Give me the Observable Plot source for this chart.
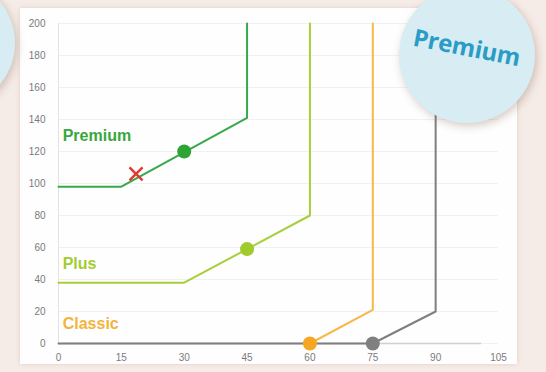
<!DOCTYPE html>
<html>
<head>
<meta charset="utf-8">
<script src="https://cdn.jsdelivr.net/npm/d3@7"></script>
<script src="https://cdn.jsdelivr.net/npm/@observablehq/plot@0.6"></script>
<style>
  html, body { margin: 0; padding: 0; background: #f6ece7; }
  #wrap { position: relative; width: 546px; height: 372px; overflow: hidden; background: #f6ece7; }
  #panel { position: absolute; left: 20px; top: 8px; width: 497px; height: 356px; background: #fefefe;
           box-shadow: 0 0 4px rgba(180,150,140,0.35); }
  #chart { position: absolute; left: 0; top: 0; }
  .bubble { position: absolute; border-radius: 50%; background: #d8edf3;
            box-shadow: 2px 3px 8px rgba(120,85,70,0.3); }
  #bl { left: -115px; top: -22px; width: 130px; height: 130px; }
  #br { left: 399px; top: -13px; width: 136px; height: 136px; }
  #br span { position: absolute; left: 0; right: 0; top: 43px; text-align: center;
             font-family: "Open Sans", sans-serif; font-weight: 700; font-size: 24px; color: #2a9cc5;
             transform: rotate(11deg); letter-spacing: -0.3px; }
</style>
</head>
<body>
<div id="wrap">
  <div id="panel"></div>
  <div id="chart"></div>
  <div class="bubble" id="bl"></div>
  <div class="bubble" id="br"><span>Premium</span></div>
</div>
<script>
// Series (x = usage, y = price)
const premiumX = [0, 15, 45, 45];
const premiumY = [98, 98, 141, 200];
const plusX = [0, 30, 60, 60];
const plusY = [38, 38, 80, 200];
const classicX = [60, 75, 75];
const classicY = [0, 21, 200];
const basicX = [0, 75, 90, 90];
const basicY = [0, 0, 20, 200];

// Highlight points
const dotX = [30, 45, 60, 75];
const dotY = [120, 59, 0, 0];
const dotColor = ["#2ea437", "#9fcb2c", "#f5a623", "#808080"];

// Cross marker
const crossX = [18.5];
const crossY = [106];

// Labels
const labelText = ["Premium", "Plus", "Classic"];
const labelY = [130, 50, 12];
const labelColor = ["#38a83c", "#a3cc32", "#f2b43e"];

// Ticks
const xTicks = [0, 15, 30, 45, 60, 75, 90, 105];
const yTicks = [0, 20, 40, 60, 80, 100, 120, 140, 160, 180, 200];

const toRows = (xs, ys) => xs.map((x, i) => ({x, y: ys[i]}));
const premium = toRows(premiumX, premiumY);
const plus = toRows(plusX, plusY);
const classic = toRows(classicX, classicY);
const basic = toRows(basicX, basicY);
const dots = dotX.map((x, i) => ({x, y: dotY[i], c: dotColor[i]}));
const cross = toRows(crossX, crossY);
const labels = labelText.map((t, i) => ({t, x: 1, y: labelY[i], c: labelColor[i]}));

const chart = Plot.plot({
  width: 546,
  height: 372,
  marginLeft: 58,
  marginRight: 48,
  marginTop: 23,
  marginBottom: 29,
  style: { background: "transparent", fontFamily: "'Liberation Sans', Arial, sans-serif", fontSize: "10px", color: "#7a7a7a" },
  x: { domain: [0, 105], ticks: xTicks, label: null },
  y: { domain: [0, 200], ticks: yTicks, label: null },
  marks: [
    Plot.gridY(yTicks, { stroke: "#f1f1f1", strokeOpacity: 1 }),
    Plot.ruleX([0], { y1: 0, y2: 200, stroke: "#e2e2e2" }),
    Plot.ruleY([0], { x1: 0, x2: 101, stroke: "#d0d0d0", strokeWidth: 1.5 }),
    Plot.axisX(xTicks, { tickSize: 0, tickPadding: 10, fontSize: 10, fill: "#7a7a7a", label: null }),
    Plot.axisY(yTicks, { tickSize: 0, tickPadding: 13, fontSize: 10, fill: "#7a7a7a", label: null }),
    Plot.line(basic, { x: "x", y: "y", stroke: "#7f7f7f", strokeWidth: 2 }),
    Plot.line(classic, { x: "x", y: "y", stroke: "#f5b84a", strokeWidth: 2 }),
    Plot.line(plus, { x: "x", y: "y", stroke: "#a7cf3b", strokeWidth: 2 }),
    Plot.line(premium, { x: "x", y: "y", stroke: "#36a94a", strokeWidth: 2 }),
    Plot.dot(dots, { x: "x", y: "y", r: 7, fill: "c", stroke: "none" }),
    Plot.dot(cross, { x: "x", y: "y", symbol: "times", r: 6, stroke: "#e03a32", strokeWidth: 2.5 }),
    Plot.text(labels, { x: "x", y: "y", text: "t", fill: "c", textAnchor: "start", fontSize: 16, fontWeight: "bold" })
  ]
});
document.getElementById("chart").appendChild(chart);
</script>
</body>
</html>
